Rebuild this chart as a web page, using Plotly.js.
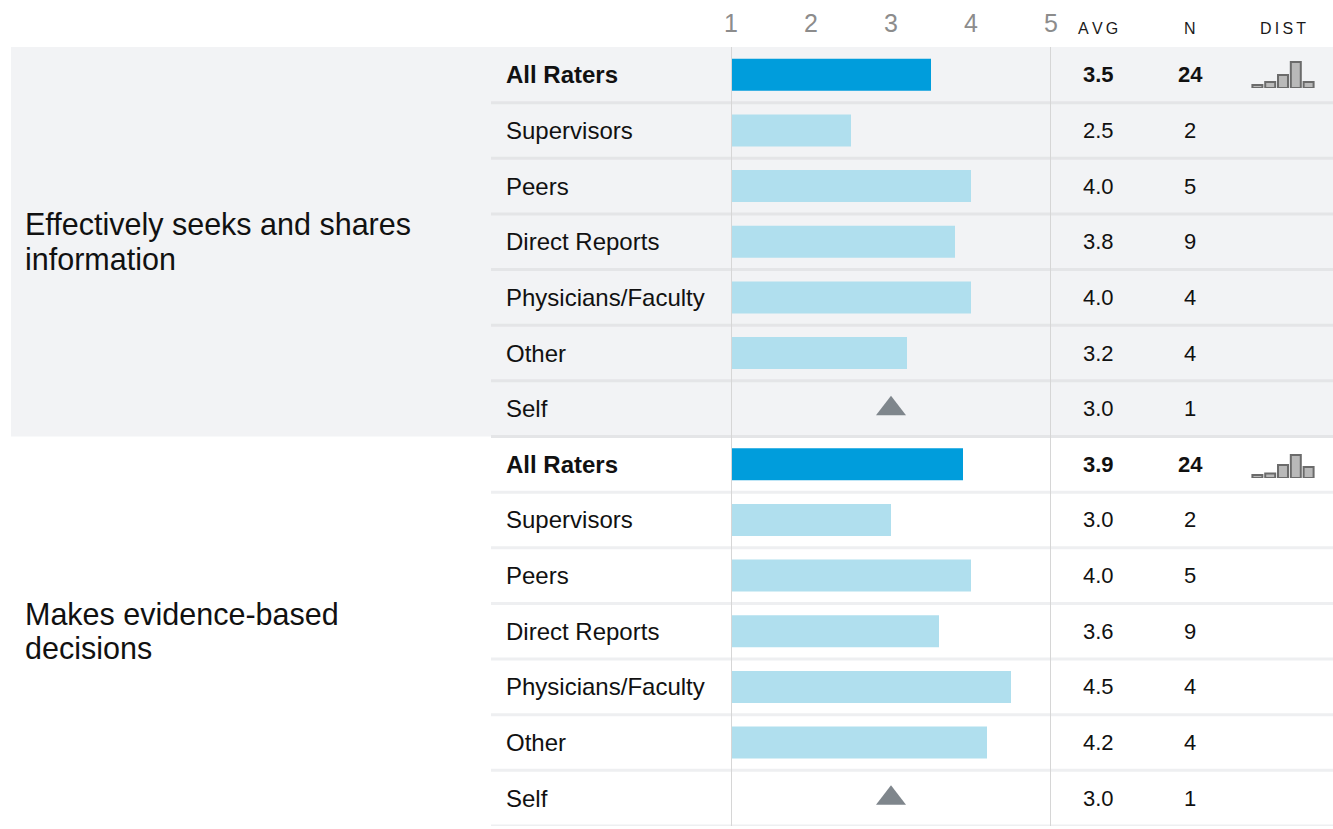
<!DOCTYPE html>
<html>
<head>
<meta charset="utf-8">
<script src="https://cdn.plot.ly/plotly-3.0.1.min.js"></script>
<style>
html,body{margin:0;padding:0;background:#fff;}
#chart{width:1333px;height:829px;}
</style>
</head>
<body>
<div id="chart"></div>
<script>
// ---- data ----
var competencies = ["Effectively seeks and shares<br>information", "Makes evidence-based<br>decisions"];
var raterGroups = ["All Raters", "Supervisors", "Peers", "Direct Reports", "Physicians/Faculty", "Other", "Self"];
var avg1 = [3.5, 2.5, 4.0, 3.8, 4.0, 3.2, 3.0];
var n1 = [24, 2, 5, 9, 4, 4, 1];
var avg2 = [3.9, 3.0, 4.0, 3.6, 4.5, 4.2, 3.0];
var n2 = [24, 2, 5, 9, 4, 4, 1];
var dist1 = [1, 2, 4.3, 8.7, 2];
var dist2 = [1, 1.5, 4.3, 7.7, 3.7];
var scaleTicks = [1, 2, 3, 4, 5];

// ---- build ----
var W = 1333;
var px = function (v) { return v / W; };
var FONT = "Liberation Sans, Arial, sans-serif";
var avgs = [avg1, avg2];
var ns = [n1, n2];
var dists = [dist1, dist2];
var nRows = raterGroups.length;
var totalRows = nRows * competencies.length;

var traces = [];
var shapes = [];
var annotations = [];

// backgrounds
shapes.push({type: "rect", xref: "paper", yref: "y", x0: px(11), x1: 1, y0: -0.5, y1: nRows - 0.5,
  fillcolor: "#f2f3f5", line: {width: 0}, layer: "below"});

competencies.forEach(function (comp, g) {
  var base = g * nRows;
  var barY = [], barX = [], barC = [], triX = [], triY = [];
  raterGroups.forEach(function (r, i) {
    var row = base + i;
    var v = avgs[g][i];
    var isAll = (r === "All Raters");
    if (r === "Self") { triX.push(v); triY.push(row); }
    else { barY.push(row); barX.push(v - 1); barC.push(isAll ? "#009ddc" : "#b0dfee"); }
    annotations.push({xref: "paper", yref: "y", x: px(504), y: row, xanchor: "left", yanchor: "middle",
      text: isAll ? "<b>" + r + "</b>" : r, showarrow: false, font: {family: FONT, size: 24, color: "#111"}});
    annotations.push({xref: "paper", yref: "y", x: px(1098), y: row, xanchor: "center", yanchor: "middle",
      text: isAll ? "<b>" + v.toFixed(1) + "</b>" : v.toFixed(1), showarrow: false, font: {family: FONT, size: 22, color: "#111"}});
    annotations.push({xref: "paper", yref: "y", x: px(1190), y: row, xanchor: "center", yanchor: "middle",
      text: isAll ? "<b>" + ns[g][i] + "</b>" : String(ns[g][i]), showarrow: false, font: {family: FONT, size: 22, color: "#111"}});
    // separator below row
    shapes.push({type: "line", xref: "paper", yref: "y", x0: px(491), x1: 1, y0: row + 0.5, y1: row + 0.5,
      line: {color: g === 0 ? "#e4e5e7" : "#eeeff1", width: 3}, layer: "below"});
  });
  traces.push({type: "bar", orientation: "h", x: barX, y: barY, base: 1, width: 0.575,
    marker: {color: barC, line: {width: 0}}, xaxis: "x", yaxis: "y", hoverinfo: "skip", showlegend: false});
  traces.push({type: "scatter", mode: "markers", x: triX, y: triY,
    marker: {symbol: "triangle-up", size: 26, color: "#7f868c"}, xaxis: "x", yaxis: "y", hoverinfo: "skip", showlegend: false});
  // competency title, one annotation per line
  var lines = comp.split("<br>");
  lines.forEach(function (ln, k) {
    annotations.push({xref: "paper", yref: "y", x: px(23), y: base + (nRows - 1) / 2,
      yshift: (lines.length - 1) * 17 - k * 34, xanchor: "left", yanchor: "middle",
      text: ln, showarrow: false, font: {family: FONT, size: 30.5, color: "#111"}});
  });
  // distribution sparkline
  var ax = g === 0 ? "2" : "3";
  traces.push({type: "bar", x: dists[g].map(function (d, k) { return k; }), y: dists[g], width: 0.78,
    marker: {color: "#b9b9b9", line: {color: "#6b6b6b", width: 2}},
    xaxis: "x" + ax, yaxis: "y" + ax, hoverinfo: "skip", showlegend: false});
});

// vertical rules at scale ends
[1, 5].forEach(function (v) {
  shapes.push({type: "line", xref: "x", yref: "paper", x0: v, x1: v, y0: 0, y1: 1,
    line: {color: "#d6d6d6", width: 2}, layer: "above"});
});

// header labels
[["A\u2009V\u2009G", 1098], ["N", 1190], ["D\u2009I\u2009S\u2009T", 1283]].forEach(function (h) {
  annotations.push({xref: "paper", yref: "paper", x: px(h[1]), y: 1, yshift: 19, xanchor: "center", yanchor: "middle",
    text: h[0], showarrow: false, font: {family: FONT, size: 16, color: "#1a1a1a"}});
});

var plotTop = 47, plotBot = 826, plotH = plotBot - plotTop;
function pyDom(baseline, topPx) { return [(plotBot - baseline) / plotH, (plotBot - topPx) / plotH]; }

var layout = {
  width: 1333, height: 829,
  margin: {l: 0, r: 0, t: plotTop, b: 829 - plotBot, pad: 0},
  paper_bgcolor: "#ffffff", plot_bgcolor: "rgba(0,0,0,0)",
  showlegend: false,
  xaxis: {domain: [px(731), px(1051)], range: [1, 5], side: "top", tickvals: scaleTicks,
    ticks: "", showgrid: false, zeroline: false, showline: false, fixedrange: true,
    ticklabelstandoff: 9,
    tickfont: {family: FONT, size: 25, color: "#8c8c8c"}},
  yaxis: {range: [totalRows - 0.5, -0.5], visible: false, fixedrange: true},
  xaxis2: {domain: [px(1251), px(1315)], range: [-0.5, 4.5], anchor: "y2", visible: false},
  yaxis2: {domain: pyDom(88, 58), range: [0, 10], anchor: "x2", visible: false},
  xaxis3: {domain: [px(1251), px(1315)], range: [-0.5, 4.5], anchor: "y3", visible: false},
  yaxis3: {domain: pyDom(478, 448), range: [0, 10], anchor: "x3", visible: false},
  shapes: shapes,
  annotations: annotations
};

Plotly.newPlot("chart", traces, layout, {displayModeBar: false, staticPlot: true});
</script>
</body>
</html>
